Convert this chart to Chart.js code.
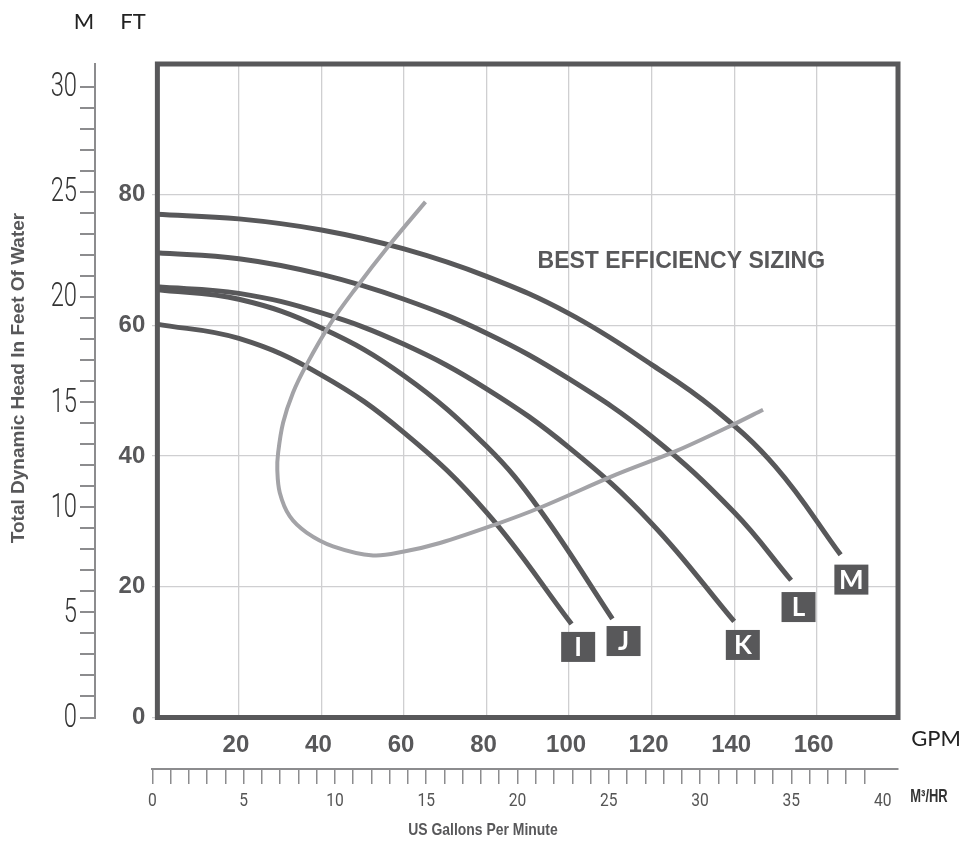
<!DOCTYPE html>
<html>
<head>
<meta charset="utf-8">
<title>Pump performance curves</title>
<script src="https://cdn.jsdelivr.net/npm/chart.js@4.4.1/dist/chart.umd.min.js"></script>
<style>
  html, body { margin: 0; padding: 0; background: #fff; }
  #wrap { width: 966px; height: 843px; }
</style>
</head>
<body>
<div id="wrap"><canvas id="pumpChart"></canvas></div>
<script>
// Values (US GPM on x, feet of head on y)
const gpmI = [0, 20, 40, 60, 80, 100.6];
const headI = [60.2, 58.0, 52.4, 43.6, 31.4, 14.3];

const gpmJ = [0, 20, 40, 60, 80, 92.9, 110.5];
const headJ = [65.5, 64.0, 59.6, 52.3, 41.5, 31.8, 15.1];

const gpmK = [0, 20, 40, 60, 80, 100, 120, 140];
const headK = [65.9, 64.9, 61.9, 57.1, 50.3, 41.3, 29.7, 14.7];

const gpmL = [0, 20, 40, 60, 80, 100, 120, 140, 153.8];
const headL = [71.1, 70.2, 67.8, 64.0, 58.8, 51.8, 43.0, 31.4, 21.0];

const gpmM = [0, 20, 40, 60, 80, 100, 120, 135, 150, 165.8];
const headM = [77.0, 76.3, 74.6, 71.7, 67.5, 61.8, 54.0, 47.3, 38.4, 24.9];

// best efficiency loop, in drawing order from its top end
const gpmBest = [65.2, 56.6, 48.1, 42.2, 36.4, 33.1, 30.7, 29.5, 29.3, 29.9, 32.3, 36.4, 42.8, 52.5, 60, 68.7, 82.4, 92.9, 111.5, 126, 139.7, 147];
const headBest = [78.9, 72.4, 65.5, 60.3, 54, 49.7, 45.1, 40.5, 37.9, 34.4, 30.8, 28.3, 26.2, 24.8, 25.4, 26.7, 29.6, 32.1, 37.2, 40.8, 44.8, 47.1];

// curve tags and where they sit
const tagNames = ['I', 'J', 'K', 'L', 'M'];
const tagGpm = [102.2, 113.2, 142.1, 155.6, 168.4];
const tagHead = [10.8, 11.7, 11.1, 16.9, 21.1];

// axis ticks
const gpmTicks = [20, 40, 60, 80, 100, 120, 140, 160];
const ftTicks = [0, 20, 40, 60, 80];
const meterLabels = [0, 5, 10, 15, 20, 25, 30];
const m3Labels = [0, 5, 10, 15, 20, 25, 30, 35, 40];

const dark = '#58585a';
const light = '#a3a3a7';
const axisGray = '#8c8c8e';
const gridGray = '#cfcfd1';
const sans = "'Liberation Sans', Arial, sans-serif";

function toPoints(xs, ys) {
    return xs.map((v, i) => ({ x: v, y: ys[i] }));
}

function pumpCurve(xs, ys) {
    return {
        data: toPoints(xs, ys),
        borderColor: dark,
        borderWidth: 5,
        borderCapStyle: 'butt',
        pointRadius: 0,
        fill: false,
        tension: 0.4
    };
}

// narrow text: the squeezed look of the original lettering
function squeezed(ctx, text, x, y, sx, align) {
    ctx.save();
    ctx.translate(x, y);
    ctx.scale(sx, 1);
    ctx.textAlign = align;
    ctx.fillText(text, 0, 0);
    ctx.restore();
}

// frame, tags and free text
const annotations = {
    id: 'annotations',
    afterDatasetsDraw(chart) {
        const { ctx, chartArea, scales: { x, y } } = chart;
        ctx.save();
        const left = x.getPixelForValue(0) + 1;
        const top = y.getPixelForValue(100);
        const bottom = y.getPixelForValue(0);
        ctx.strokeStyle = dark;
        ctx.lineWidth = 5;
        ctx.strokeRect(left, top, chartArea.right - left, bottom - top);

        ctx.textAlign = 'center';
        ctx.textBaseline = 'middle';
        tagNames.forEach((t, i) => {
            const px = x.getPixelForValue(tagGpm[i]);
            const py = y.getPixelForValue(tagHead[i]);
            ctx.fillStyle = dark;
            ctx.fillRect(px - 17, py - 15, 34, 30);
            ctx.fillStyle = '#fff';
            ctx.font = 'bold 26px Lato, sans-serif';
            ctx.fillText(t, px, py + 1);
        });

        ctx.fillStyle = dark;
        ctx.font = 'bold 23px ' + sans;
        ctx.fillText('BEST EFFICIENCY SIZING', x.getPixelForValue(127.2), y.getPixelForValue(69.7));
        ctx.restore();
    },
    afterDraw(chart) {
        const { ctx, scales: { x2, y2 } } = chart;
        ctx.save();
        ctx.textBaseline = 'middle';

        // meter labels beside the left scale
        ctx.fillStyle = '#333';
        ctx.font = '300 33px Roboto, sans-serif';
        meterLabels.forEach(v => {
            squeezed(ctx, String(v), y2.right - 18, y2.getPixelForValue(v) + 1, 0.72, 'right');
        });

        // cubic metres per hour under the bottom scale
        ctx.fillStyle = '#555';
        ctx.font = '19px Roboto, sans-serif';
        m3Labels.forEach(v => {
            squeezed(ctx, String(v), x2.getPixelForValue(v), x2.top + 32, 0.82, 'center');
        });

        ctx.textAlign = 'center';
        ctx.fillStyle = '#222';
        ctx.font = '22px Lato, sans-serif';
        ctx.fillText('M', 84, 22);
        ctx.fillText('FT', 133, 22);
        ctx.fillText('GPM', 936, 739);

        ctx.fillStyle = '#333';
        ctx.font = 'bold 18px ' + sans;
        squeezed(ctx, 'M³/HR', 929, 797, 0.72, 'center');
        ctx.fillStyle = dark;
        ctx.font = 'bold 17px ' + sans;
        squeezed(ctx, 'US Gallons Per Minute', 483, 830, 0.82, 'center');

        ctx.translate(19, 378);
        ctx.rotate(-Math.PI / 2);
        ctx.font = 'bold 19px ' + sans;
        ctx.fillText('Total Dynamic Head In Feet Of Water', 0, 0);
        ctx.restore();
    }
};

const ctx = document.getElementById('pumpChart').getContext('2d');

const pumpChart = new Chart(ctx, {
    type: 'line',
    data: {
        datasets: [
            {
                data: toPoints(gpmBest, headBest),
                borderColor: light,
                borderWidth: 4,
                pointRadius: 0,
                fill: false,
                tension: 0.35
            },
            pumpCurve(gpmI, headI),
            pumpCurve(gpmJ, headJ),
            pumpCurve(gpmK, headK),
            pumpCurve(gpmL, headL),
            pumpCurve(gpmM, headM)
        ]
    },
    options: {
        responsive: true,
        maintainAspectRatio: false,
        animation: false,
        events: [],
        layout: {
            padding: { left: 0, top: 64, right: 68, bottom: 24 }
        },
        scales: {
            x: {
                type: 'linear',
                position: 'bottom',
                weight: 0,
                min: -0.99,
                max: 179.7,
                afterBuildTicks: s => { s.ticks = gpmTicks.map(v => ({ value: v })); },
                afterFit: s => { s.height = 51.5; },
                grid: { color: gridGray, lineWidth: 1.3, drawTicks: false },
                border: { display: false },
                ticks: {
                    autoSkip: false,
                    maxRotation: 0,
                    padding: 13,
                    labelOffset: -3,
                    color: dark,
                    font: { family: sans, size: 24, weight: 'bold' },
                    callback: v => String(v)
                }
            },
            x2: {
                type: 'linear',
                position: 'bottom',
                weight: 1,
                min: 0,
                max: 40.84,
                afterBuildTicks: s => { s.ticks = s.ticks.filter(t => Number.isInteger(t.value) && t.value <= 40); },
                afterFit: s => { s.height = 50; },
                grid: { drawOnChartArea: false, tickLength: 15, color: axisGray, lineWidth: 1.5 },
                border: { color: axisGray, width: 2 },
                ticks: { display: false, stepSize: 1, autoSkip: false }
            },
            y: {
                type: 'linear',
                position: 'left',
                weight: 0,
                min: 0,
                max: 100,
                afterBuildTicks: s => { s.ticks = ftTicks.map(v => ({ value: v })); },
                afterFit: s => { s.width = 57.3; },
                grid: { color: gridGray, lineWidth: 1.3, drawTicks: false },
                border: { display: false },
                ticks: {
                    padding: 7,
                    color: dark,
                    font: { family: sans, size: 24, weight: 'bold' },
                    callback: v => String(v)
                }
            },
            y2: {
                type: 'linear',
                position: 'left',
                weight: 1,
                min: 0,
                max: 31.1,
                afterBuildTicks: s => { s.ticks = s.ticks.filter(t => Number.isInteger(t.value) && t.value <= 30); },
                afterFit: s => { s.width = 95; },
                grid: { drawOnChartArea: false, tickLength: 15, color: axisGray, lineWidth: 2 },
                border: { color: axisGray, width: 2 },
                ticks: { display: false, stepSize: 1, autoSkip: false }
            }
        },
        plugins: {
            legend: { display: false },
            tooltip: { enabled: false }
        }
    },
    plugins: [annotations]
});
</script>
</body>
</html>
